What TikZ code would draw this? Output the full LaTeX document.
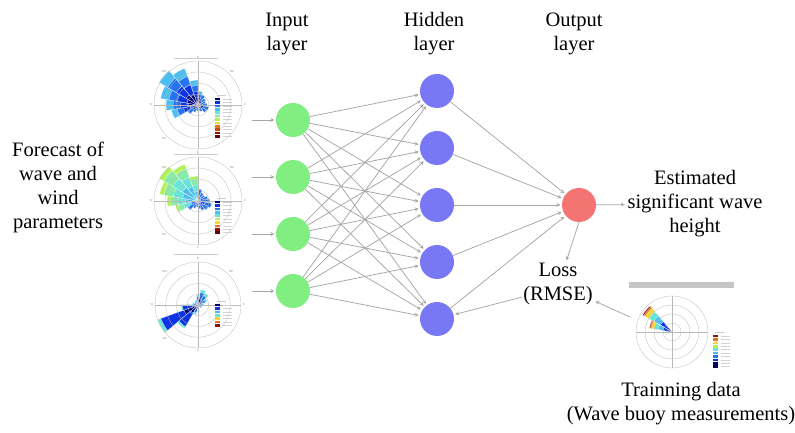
\documentclass[tikz,border=0pt]{standalone}
\usepackage{fontspec}
\setmainfont{Liberation Serif}

\definecolor{inpc}{HTML}{80EE80}
\definecolor{hidc}{HTML}{7878F5}
\definecolor{outc}{HTML}{F47373}
\definecolor{linec}{HTML}{A6A6A6}
\definecolor{rnavy}{rgb}{0,0,0.45}
\definecolor{rblue}{rgb}{0.05,0.2,0.9}
\definecolor{rmid}{rgb}{0.15,0.45,0.95}
\definecolor{rsky}{rgb}{0.3,0.75,0.95}
\definecolor{rcyan}{rgb}{0.4,0.9,0.85}
\definecolor{rlime}{rgb}{0.7,0.95,0.35}
\definecolor{ryel}{rgb}{0.95,0.85,0.2}
\definecolor{rorng}{rgb}{0.9,0.45,0.1}
\definecolor{rred}{rgb}{0.6,0.05,0.05}

\newcommand{\rosesector}[3]{\fill[#3,draw=white,line width=0.2pt] (0,0) -- (#1-10:#2) arc[start angle=#1-10,end angle=#1+10,radius=#2] -- cycle;}
\newcommand{\rosegrid}[1]{%
  \foreach \k in {1,...,4} \draw[gray!55,line width=0.3pt] (0,0) circle[radius=\k*#1/4];
  \draw[gray!55,line width=0.3pt] (-#1,0) -- (#1,0) (0,-#1) -- (0,#1);}
\newcommand{\rosecompass}[1]{%
  \node[compass] at (90:#1+3) {N}; \node[compass] at (270:#1+3) {S};
  \node[compass] at (0:#1+3) {E}; \node[compass] at (180:#1+3) {W};
  \node[compass] at (135:#1+4) {NW}; \node[compass] at (45:#1+4) {NE};
  \node[compass] at (225:#1+4) {SW};}
\newcommand{\roselegend}[2]{%
  \begin{scope}[shift={(#1)}]
  \draw[gray!40,line width=0.6pt] (2,1.5) -- ++(9,0);
  \foreach \c [count=\k] in {#2}{
    \fill[\c] (0,-\k*3.4) rectangle ++(5,2.6);
    \draw[gray!35,line width=0.6pt] (8,-\k*3.4+1.3) -- ++(9,0);}
  \end{scope}}

\begin{document}
\begin{tikzpicture}[x=1pt,y=1pt,>=stealth,node distance=57pt,
  neuron/.style={circle,minimum size=34pt,inner sep=0pt},
  inp/.style={neuron,fill=inpc},
  hid/.style={neuron,fill=hidc},
  outn/.style={neuron,fill=outc},
  conn/.style={->,color=linec,line width=0.75pt,shorten >=1.5pt},
  lbl/.style={align=center,inner sep=1pt,font=\rmfamily\fontsize{20.5}{24}\selectfont},
  compass/.style={font=\fontsize{3}{3}\selectfont,text=gray,inner sep=0pt}]
\useasboundingbox (0,0) rectangle (795,433);

% network
\node[inp] (i1) at (293,313) {};
\node[inp] (i2) [below of=i1] {};
\node[inp] (i3) [below of=i2] {};
\node[inp] (i4) [below of=i3] {};
\node[hid] (h1) at (437,342) {};
\node[hid] (h2) [below of=h1] {};
\node[hid] (h3) [below of=h2] {};
\node[hid] (h4) [below of=h3] {};
\node[hid] (h5) [below of=h4] {};
\node[outn] (o) [right of=h3,node distance=142pt] {};

\path[conn] (i1) edge (h1) edge (h2) edge (h3) edge (h4) edge (h5)
(i2) edge (h1) edge (h2) edge (h3) edge (h4) edge (h5)
(i3) edge (h1) edge (h2) edge (h3) edge (h4) edge (h5)
(i4) edge (h1) edge (h2) edge (h3) edge (h4) edge (h5)
(h1) edge (o) (h2) edge (o) (h3) edge (o) (h4) edge (o) (h5) edge (o);

% labels
\node[lbl] (forecast) at (58,246) {Forecast of\\wave and\\wind\\parameters};
\node[lbl] (inlab) at (287,399) {Input\\layer};
\node[lbl] (hidlab) at (434,399) {Hidden\\layer};
\node[lbl] (outlab) at (574,399) {Output\\layer};
\node[lbl] (est) at (695,229) {Estimated\\significant wave\\height};
\node[lbl] (loss) at (558,149) {Loss\\(RMSE)};
\node[lbl] (train) at (681,29) {Trainning data\\(Wave buoy measurements)};

% input arrows
\coordinate (f1) at (252,313);
\coordinate (f2) at (252,256);
\coordinate (f3) at (252,199);
\coordinate (f4) at (252,142);
\path[conn] (f1) edge (i1) (f2) edge (i2) (f3) edge (i3) (f4) edge (i4);

% output and loss arrows
\coordinate (tr) at (630,116);
\draw[conn] (o) -- (est);
\draw[conn] (o.south) -- (loss.70);
\draw[conn] (tr) -- (loss.-25);
\draw[conn] (loss.200) -- (h5);

% forecast roses
\begin{scope}[shift={(198,328)}]
\draw[gray!40,line width=0.8pt] (-24,47) -- (20,47);
\foreach \a/\r in {200/27,180/32,160/38,140/45,120/39,100/25,80/14}{
  \rosesector{\a}{\r}{rsky}
  \rosesector{\a}{0.78*\r}{rmid}
  \rosesector{\a}{0.55*\r}{rblue}
  \rosesector{\a}{0.3*\r}{rnavy}}
\foreach \a/\r in {60/11,40/9,20/8,0/9,-20/11,-40/10,-60/7,-80/6,-100/5,-120/5,-140/6,-160/8,220/12,240/8,260/6}{
  \rosesector{\a}{\r}{rmid}
  \rosesector{\a}{0.5*\r}{rnavy}}
\rosegrid{44}
\rosecompass{44}
\end{scope}
\roselegend{215,336}{rnavy,rblue,rmid,rsky,rcyan,rcyan!60!rlime,rlime,ryel,rorng,rorng!60!rred,rred,rred!60!black}

\begin{scope}[shift={(198,232)}]
\draw[gray!40,line width=0.8pt] (-24,47) -- (20,47);
\foreach \a/\r in {200/23,180/31,160/39,140/45,120/39,100/25}{
  \rosesector{\a}{\r}{rlime}
  \rosesector{\a}{0.88*\r}{rcyan!60!rlime}
  \rosesector{\a}{0.65*\r}{rcyan}
  \rosesector{\a}{0.4*\r}{rsky}}
\foreach \a/\r in {80/12,60/9,40/8,20/10,0/12,-20/14,-40/12,-60/10,-80/8,-100/6,-120/6,-140/6,-160/7,220/12,240/8,260/6}{
  \rosesector{\a}{\r}{rmid}
  \rosesector{\a}{0.5*\r}{rblue}}
\rosegrid{44}
\rosecompass{44}
\end{scope}
\roselegend{215,233}{rnavy,rblue,rmid,rsky,rcyan,rlime,ryel,rorng,rred,rred!60!black}

\begin{scope}[shift={(198,128)}]
\draw[gray!40,line width=0.8pt] (-24,51) -- (20,51);
\foreach \a/\r in {210/43,230/27,190/17}{
  \rosesector{\a}{\r}{rcyan}
  \rosesector{\a}{0.92*\r}{rblue}
  \rosesector{\a}{0.35*\r}{rnavy}}
\foreach \a/\r in {50/14,70/16,30/10,90/10,10/6,110/6,250/10,-10/5,-30/5,150/5,170/6,130/5}{
  \rosesector{\a}{\r}{rcyan}
  \rosesector{\a}{0.8*\r}{rmid}
  \rosesector{\a}{0.4*\r}{rnavy}}
\rosegrid{43}
\rosecompass{43}
\end{scope}
\roselegend{215,130}{rnavy,rblue,rsky,rcyan,ryel,rorng,rred}

% training rose
\fill[gray!45] (629,145) rectangle (734,151);
\begin{scope}[shift={(672,101)}]
\foreach \a/\r in {140/34,160/23}{
  \rosesector{\a}{\r}{rred}
  \rosesector{\a}{0.96*\r}{rorng}
  \rosesector{\a}{0.91*\r}{ryel}
  \rosesector{\a}{0.78*\r}{rcyan}
  \rosesector{\a}{0.62*\r}{rsky}
  \rosesector{\a}{0.4*\r}{rblue}
  \rosesector{\a}{0.18*\r}{rnavy}}
\rosegrid{36}
\end{scope}
\roselegend{713,99}{rred,rorng,ryel,rlime,rcyan,rsky,rmid,rblue,rnavy,rnavy!70!black}
\end{tikzpicture}
\end{document}
